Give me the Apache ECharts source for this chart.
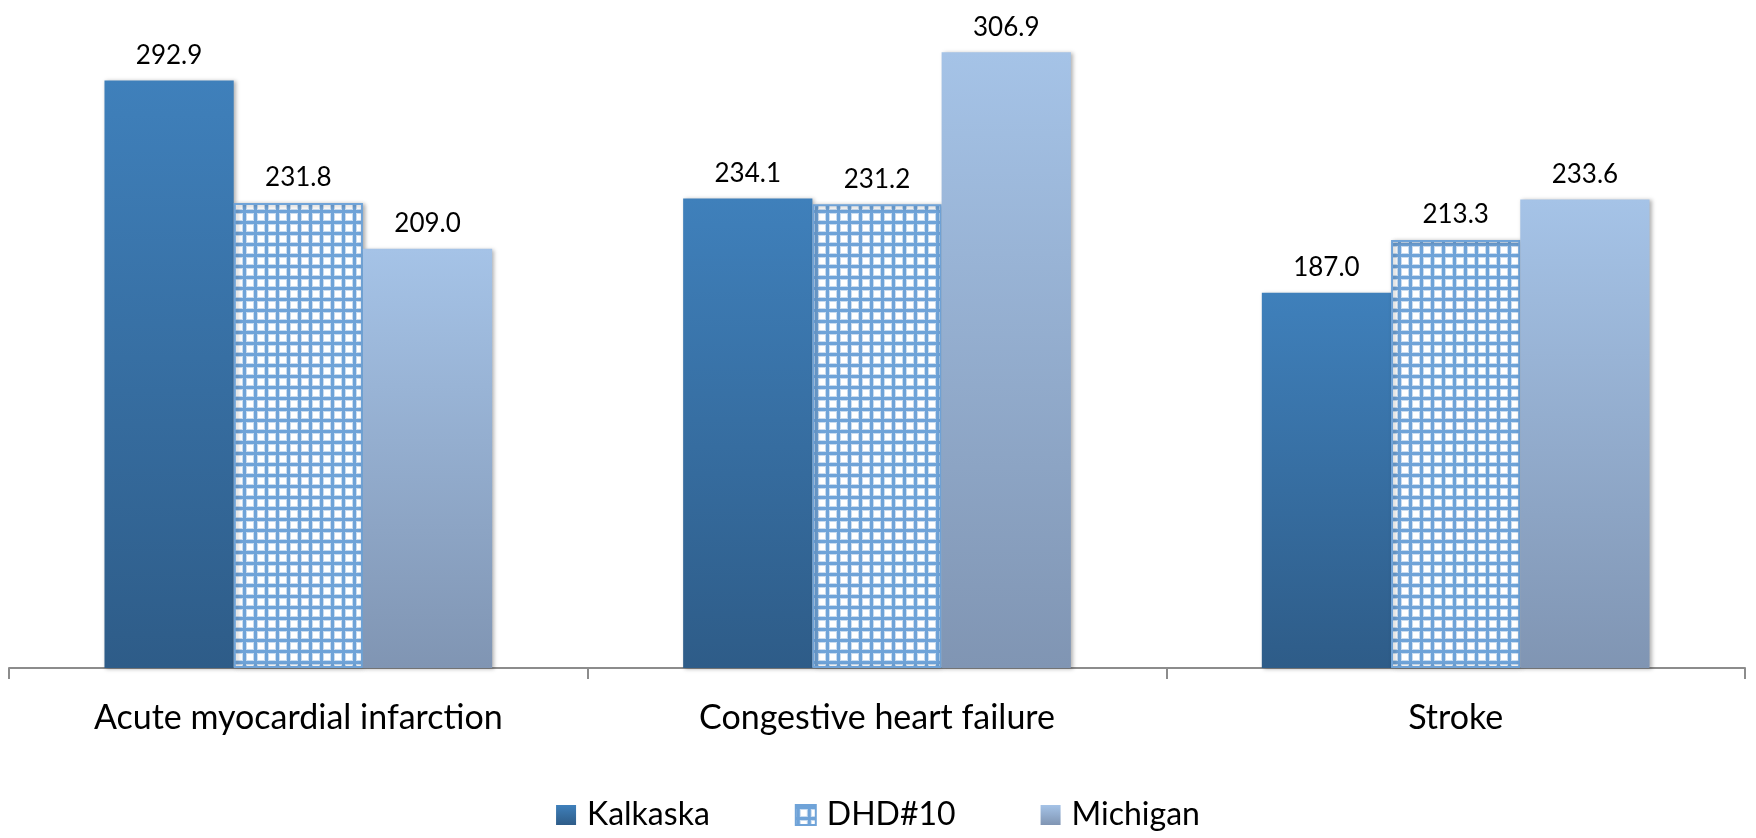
<!DOCTYPE html>
<html>
<head>
<meta charset="utf-8">
<script src="https://cdn.jsdelivr.net/npm/echarts@6/dist/echarts.min.js"></script>
<style>
  html, body { margin: 0; padding: 0; background: #fff; }
  #main { width: 1756px; height: 838px; }
</style>
</head>
<body>
<div id="main"></div>
<script>
// data
var categories = ['Acute myocardial infarction', 'Congestive heart failure', 'Stroke'];
var kalkaska = [292.9, 234.1, 187.0];
var dhd10 = [231.8, 231.2, 213.3];
var michigan = [209.0, 306.9, 233.6];

// grid pattern for DHD#10
function makeGrid() {
  var c = document.createElement('canvas');
  c.width = 11;
  c.height = 11;
  var ctx = c.getContext('2d');
  ctx.fillStyle = '#ffffff';
  ctx.fillRect(0, 0, 11, 11);
  ctx.fillStyle = '#c9dcf0';
  ctx.fillRect(0, 0, 5, 11);
  ctx.fillRect(0, 0, 11, 5);
  ctx.fillStyle = '#6fa3d8';
  ctx.fillRect(1, 0, 3, 11);
  ctx.fillRect(0, 1, 11, 3);
  return c;
}

function grad(top, bottom) {
  return new echarts.graphic.LinearGradient(0, 0, 0, 1, [
    { offset: 0, color: top },
    { offset: 1, color: bottom }
  ]);
}

var chart = echarts.init(document.getElementById('main'));

var labelStyle = {
  show: true,
  position: 'top',
  distance: 12,
  fontFamily: 'Lato',
  fontSize: 26,
  color: '#000',
  formatter: function (p) { return p.value.toFixed(1); }
};
var shadow = {
  shadowColor: 'rgba(0,0,0,0.3)',
  shadowBlur: 4,
  shadowOffsetX: 2,
  shadowOffsetY: 1
};

var option = {
  backgroundColor: '#ffffff',
  animation: false,
  grid: { left: 9, right: 11, top: 6, bottom: 170 },
  legend: {
    bottom: 2,
    left: 'center',
    itemWidth: 20,
    itemHeight: 20,
    itemGap: 85,
    icon: 'rect',
    textStyle: { fontFamily: 'Lato', fontSize: 32, color: '#000', padding: [0, 0, 0, 6] },
    data: ['Kalkaska', 'DHD#10', 'Michigan']
  },
  xAxis: {
    type: 'category',
    data: categories,
    axisLine: { lineStyle: { color: '#8c8c8c', width: 2 } },
    axisTick: { show: true, length: 11, lineStyle: { color: '#8c8c8c', width: 2 } },
    axisLabel: { margin: 33, fontFamily: 'Lato', fontSize: 34, color: '#000' }
  },
  yAxis: {
    type: 'value',
    min: 0,
    max: 330,
    show: false
  },
  series: [
    {
      name: 'Kalkaska',
      type: 'bar',
      data: kalkaska,
      barGap: '0%',
      barCategoryGap: '33%',
      label: labelStyle,
      itemStyle: Object.assign({ color: grad('#3f80bb', '#2e5c88') }, shadow)
    },
    {
      name: 'DHD#10',
      type: 'bar',
      data: dhd10,
      label: labelStyle,
      itemStyle: Object.assign({
        color: { image: makeGrid(), repeat: 'repeat' },
        borderColor: '#6fa3d8',
        borderWidth: 2
      }, shadow)
    },
    {
      name: 'Michigan',
      type: 'bar',
      data: michigan,
      label: labelStyle,
      itemStyle: Object.assign({ color: grad('#a5c3e7', '#8095b3') }, shadow)
    }
  ]
};

chart.setOption(option);
</script>
</body>
</html>
